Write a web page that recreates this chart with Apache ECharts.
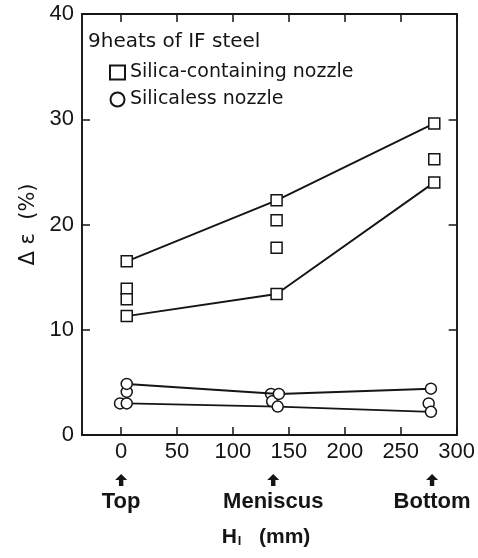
<!DOCTYPE html>
<html><head><meta charset="utf-8">
<script src="https://cdn.jsdelivr.net/npm/echarts@6/dist/echarts.min.js"></script>
<style>html,body{margin:0;padding:0;background:#fff}#c{width:478px;height:558px}</style>
</head><body><div id="c"></div>
<script>
// ---- data ----
const xTicks = [0, 50, 100, 150, 200, 250, 300];
const yTicks = [0, 10, 20, 30, 40];
// silica-containing nozzle, connected upper heat
const silUpX = [5, 139, 280];
const silUpY = [16.5, 22.3, 29.6];
// silica-containing nozzle, connected lower heat
const silLoX = [5, 139, 280];
const silLoY = [11.3, 13.4, 24.0];
// silica-containing nozzle, other heats
const silOtX = [5, 5, 139, 139, 280];
const silOtY = [13.9, 12.9, 20.4, 17.8, 26.2];
// silicaless nozzle, connected upper heat
const nslUpX = [5, 141, 277];
const nslUpY = [4.85, 3.9, 4.4];
// silicaless nozzle, connected lower heat
const nslLoX = [5, 140, 277];
const nslLoY = [3.0, 2.7, 2.2];
// silicaless nozzle, other heats
const nslOtX = [5, -1, 134, 135, 275];
const nslOtY = [4.1, 3.0, 3.9, 3.2, 3.0];
// position markers
const posX = [0, 136, 278];
const posLabels = ['Top', 'Meniscus', 'Bottom'];

const zip = (xs, ys) => xs.map((x, i) => [x, ys[i]]);
const FONT = 'DejaVu Sans';
const TFONT = 'Liberation Sans';
const INK = '#151515';
const symStyle = { color: '#fff', borderColor: INK, borderWidth: 1.5, opacity: 1 };
const lineStyle = { color: INK, width: 1.9 };
const axLine = { show: true, onZero: false, lineStyle: { color: INK, width: 1.9 } };
const axTick = { show: true, inside: true, length: 8, lineStyle: { color: INK, width: 1.5 } };

const chart = echarts.init(document.getElementById('c'));
const option = {
  animation: false,
  textStyle: { fontFamily: FONT, color: INK },
  grid: { left: 82, right: 19, top: 14, bottom: 123 },
  legend: {
    orient: 'vertical', left: 104, top: 58, itemGap: 8,
    itemWidth: 15, itemHeight: 14,
    textStyle: { fontFamily: FONT, fontSize: 19, color: INK },
    data: [
      { name: 'Silica-containing nozzle', icon: 'rect' },
      { name: 'Silicaless nozzle', icon: 'circle' }
    ]
  },
  xAxis: [{
    type: 'value', min: -35, max: 300, position: 'bottom',
    axisLine: axLine,
    axisTick: Object.assign({ customValues: xTicks }, axTick),
    axisLabel: { customValues: xTicks, fontSize: 22, color: INK, margin: 6, fontFamily: TFONT },
    splitLine: { show: false }
  }, {
    type: 'value', min: -35, max: 300, position: 'top',
    axisLine: axLine,
    axisTick: Object.assign({ customValues: xTicks }, axTick),
    axisLabel: { show: false },
    splitLine: { show: false }
  }],
  yAxis: [{
    type: 'value', min: 0, max: 40, interval: 10, position: 'left',
    name: 'Δ ε  (%)', nameLocation: 'middle', nameRotate: 90, nameGap: 42,
    nameTextStyle: { fontSize: 21, color: INK, fontFamily: FONT },
    axisLine: axLine, axisTick: axTick,
    axisLabel: { fontSize: 22, color: INK, margin: 8, fontFamily: TFONT },
    splitLine: { show: false }
  }, {
    type: 'value', min: 0, max: 40, interval: 10, position: 'right',
    axisLine: axLine, axisTick: axTick,
    axisLabel: { show: false },
    splitLine: { show: false }
  }],
  series: [
    { name: 'Silica-containing nozzle', type: 'line', data: zip(silUpX, silUpY), symbol: 'rect', symbolSize: 11, lineStyle, itemStyle: symStyle, z: 3 },
    { name: 'Silica-containing nozzle', type: 'line', data: zip(silLoX, silLoY), symbol: 'rect', symbolSize: 11, lineStyle, itemStyle: symStyle, z: 3 },
    { name: 'Silica-containing nozzle', type: 'scatter', data: zip(silOtX, silOtY), symbol: 'rect', symbolSize: 11, itemStyle: symStyle, z: 4 },
    { name: 'Silicaless nozzle', type: 'scatter', data: zip(nslOtX, nslOtY), symbol: 'circle', symbolSize: 11, itemStyle: symStyle, z: 2 },
    { name: 'Silicaless nozzle', type: 'line', data: zip(nslUpX, nslUpY), symbol: 'circle', symbolSize: 11, lineStyle, itemStyle: symStyle, z: 3 },
    { name: 'Silicaless nozzle', type: 'line', data: zip(nslLoX, nslLoY), symbol: 'circle', symbolSize: 11, lineStyle, itemStyle: symStyle, z: 3 }
  ]
};
chart.setOption(option);

// annotations placed via the axis scale
const g = [];
g.push({ type: 'text', left: 88, top: 32, style: { text: '9heats of IF steel', font: '20px "' + FONT + '"', fill: INK } });
posX.forEach((x, i) => {
  const px = chart.convertToPixel({ xAxisIndex: 0 }, x);
  g.push({ type: 'polygon', shape: { points: [[px, 474], [px - 6, 480], [px - 2.2, 480], [px - 2.2, 486], [px + 2.2, 486], [px + 2.2, 480], [px + 6, 480]] }, style: { fill: INK } });
  g.push({ type: 'text', x: px, y: 491, style: { text: posLabels[i], font: 'bold 22px "' + TFONT + '"', fill: INK, align: 'center', verticalAlign: 'top' } });
});
g.push({ type: 'text', x: 266, y: 537, style: {
  text: 'H{s|l}   (mm)', fill: INK, align: 'center', verticalAlign: 'middle',
  font: 'bold 21px "' + TFONT + '"',
  rich: { s: { fontSize: 13, fontWeight: 'bold', fontFamily: TFONT, verticalAlign: 'bottom', padding: [9, 0, 0, 1], fill: INK } }
} });
chart.setOption({ graphic: g });
</script></body></html>
